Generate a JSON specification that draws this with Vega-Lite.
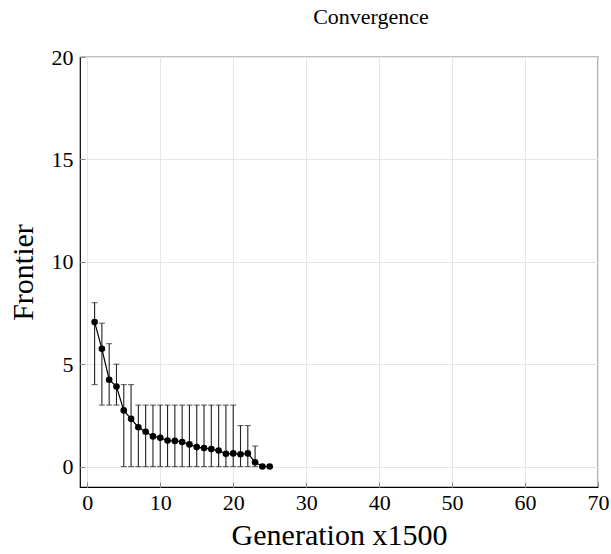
{
  "$schema": "https://vega.github.io/schema/vega-lite/v6.json",
  "width": 518,
  "height": 430,
  "autosize": "none",
  "padding": {"left": 80, "top": 57, "right": 13, "bottom": 67},
  "background": "white",
  "config": {
    "font": "Liberation Serif",
    "view": {"stroke": "black", "strokeWidth": 1.2},
    "axis": {
      "domain": false,
      "gridColor": "#e6e6e6",
      "gridWidth": 1,
      "tickColor": "#888888",
      "tickSize": -5,
      "labelFont": "Liberation Serif",
      "labelFontSize": 22,
      "labelColor": "black",
      "labelFlush": false,
      "titleFont": "Liberation Serif",
      "titleFontWeight": "normal",
      "titleColor": "black",
      "titleFontSize": 30
    }
  },
  "title": {"text": "Convergence", "font": "Liberation Serif", "fontSize": 22, "fontWeight": "normal", "color": "black", "offset": 17, "dx": 32},
  "data": {
    "values": [
      {"gen": 1, "frontier": 7.06, "lo": 4, "hi": 8},
      {"gen": 2, "frontier": 5.75, "lo": 3, "hi": 7},
      {"gen": 3, "frontier": 4.24, "lo": 3, "hi": 6},
      {"gen": 4, "frontier": 3.91, "lo": 3, "hi": 5},
      {"gen": 5, "frontier": 2.74, "lo": 0, "hi": 4},
      {"gen": 6, "frontier": 2.33, "lo": 0, "hi": 4},
      {"gen": 7, "frontier": 1.92, "lo": 0, "hi": 3},
      {"gen": 8, "frontier": 1.70, "lo": 0, "hi": 3},
      {"gen": 9, "frontier": 1.47, "lo": 0, "hi": 3},
      {"gen": 10, "frontier": 1.40, "lo": 0, "hi": 3},
      {"gen": 11, "frontier": 1.27, "lo": 0, "hi": 3},
      {"gen": 12, "frontier": 1.25, "lo": 0, "hi": 3},
      {"gen": 13, "frontier": 1.20, "lo": 0, "hi": 3},
      {"gen": 14, "frontier": 1.08, "lo": 0, "hi": 3},
      {"gen": 15, "frontier": 0.95, "lo": 0, "hi": 3},
      {"gen": 16, "frontier": 0.90, "lo": 0, "hi": 3},
      {"gen": 17, "frontier": 0.85, "lo": 0, "hi": 3},
      {"gen": 18, "frontier": 0.78, "lo": 0, "hi": 3},
      {"gen": 19, "frontier": 0.62, "lo": 0, "hi": 3},
      {"gen": 20, "frontier": 0.64, "lo": 0, "hi": 3},
      {"gen": 21, "frontier": 0.60, "lo": 0, "hi": 2},
      {"gen": 22, "frontier": 0.64, "lo": 0, "hi": 2},
      {"gen": 23, "frontier": 0.21, "lo": 0, "hi": 1},
      {"gen": 24, "frontier": 0.0, "lo": 0, "hi": 0},
      {"gen": 25, "frontier": 0.0, "lo": 0, "hi": 0}
    ]
  },
  "encoding": {
    "x": {
      "field": "gen", "type": "quantitative",
      "scale": {"domain": [-1, 70], "nice": false, "zero": false},
      "axis": {"values": [0, 10, 20, 30, 40, 50, 60, 70], "title": "Generation x1500", "labelPadding": 10, "titlePadding": 7}
    }
  },
  "layer": [
    {
      "mark": {"type": "rule", "color": "#222222", "strokeWidth": 1.1},
      "encoding": {
        "y": {"field": "lo", "type": "quantitative", "scale": {"domain": [-1, 20], "nice": false, "zero": false},
          "axis": {"values": [0, 5, 10, 15, 20], "title": "Frontier", "labelPadding": 12, "titlePadding": 13}},
        "y2": {"field": "hi"}
      }
    },
    {
      "mark": {"type": "tick", "orient": "horizontal", "color": "#222222", "size": 6, "thickness": 1.1},
      "encoding": {"y": {"field": "lo", "type": "quantitative"}}
    },
    {
      "mark": {"type": "tick", "orient": "horizontal", "color": "#222222", "size": 6, "thickness": 1.1},
      "encoding": {"y": {"field": "hi", "type": "quantitative"}}
    },
    {
      "mark": {"type": "line", "color": "black", "strokeWidth": 1.2},
      "encoding": {"y": {"field": "frontier", "type": "quantitative"}}
    },
    {
      "mark": {"type": "point", "filled": true, "color": "black", "opacity": 1, "size": 44},
      "encoding": {"y": {"field": "frontier", "type": "quantitative"}}
    }
  ]
}
